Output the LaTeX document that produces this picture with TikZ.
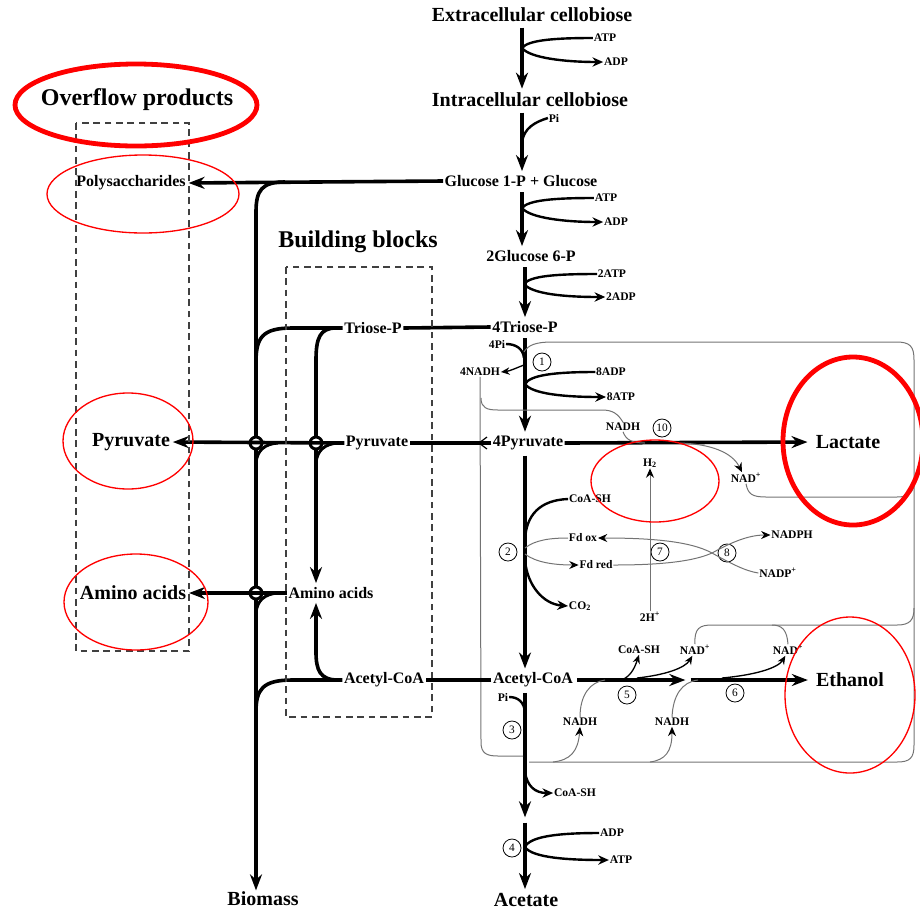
\documentclass[tikz,border=0pt]{standalone}
\usepackage{fontspec}
\setmainfont{Liberation Serif}
\usetikzlibrary{arrows.meta}
\begin{document}
\begin{tikzpicture}[x=0.75pt,y=-0.75pt,
  big/.style={font=\fontsize{15}{17}\selectfont\bfseries,inner sep=1pt},
  huge/.style={font=\fontsize{18}{20}\selectfont\bfseries,inner sep=1pt},
  mid/.style={font=\fontsize{12}{14}\selectfont\bfseries,inner sep=1pt},
  sm/.style={font=\fontsize{8.7}{10}\selectfont\bfseries,inner sep=0.5pt},
  flux/.style={line width=2.7pt},
  fluxarr/.style={flux,-{Stealth[length=12pt,width=9pt]}},
  chain/.style={fluxarr,shorten <=3pt,shorten >=2pt},
  side/.style={line width=1.8pt},
  sidearr/.style={side,-{Stealth[length=8pt,width=7pt]}},
  smallarr/.style={line width=1pt,-{Stealth[length=6.5pt,width=5.5pt]}},
  cof/.style={draw=black!55,line width=0.75pt},
  cofarr/.style={cof,-{Stealth[length=7pt,width=6pt,color=black]}},
  num/.style={circle,draw,line width=0.6pt,inner sep=0pt,minimum size=13.5pt,font=\fontsize{8.5}{9}\selectfont},
  redthick/.style={draw=red,line width=3.6pt},
  redthin/.style={draw=red,line width=1pt},
  dbox/.style={draw=black!75,line width=1pt,dash pattern=on 5pt off 3.5pt},
  hop/.pic={\draw[line width=2.2pt] (0,0) circle[radius=6];
            \draw[line width=2.2pt] (22,0) .. controls (8,1) and (1,8) .. (0,20);}
]
\useasboundingbox (0,0) rectangle (920,911);

% ---------- main column nodes ----------
\node[big] (ext) at (532,15) {Extracellular cellobiose};
\node[big] (int) at (530,100) {Intracellular cellobiose};
\node[mid] (g1p) at (521,181) {Glucose 1-P + Glucose};
\node[mid] (g6p) at (531,256) {2Glucose 6-P};
\node[mid] (tri) at (525,327) {4Triose-P};
\node[mid] (pyr) at (528,443) {4Pyruvate};
\node[mid] (acc) at (533,680) {Acetyl-CoA};
\node[big] (ace) at (526,900) {Acetate};
\node[big] (lac) at (848,442) {Lactate};
\node[big] (eth) at (850,680) {Ethanol};

% ---------- left nodes ----------
\node[huge] (ovf) at (137,100) {Overflow products};
\node[huge] (bbl) at (358,242) {Building blocks};
\node[mid] (poly) at (131,183) {Polysaccharides};
\node[big] (pyro) at (131,442) {Pyruvate};
\node[big] (aao) at (133,593) {Amino acids};
\node[big] (bio) at (263,899) {Biomass};
\node[mid] (trib) at (373,328) {Triose-P};
\node[mid] (pyrb) at (377,443) {Pyruvate};
\node[mid] (aab) at (331,593) {Amino acids};
\node[mid] (accb) at (384,680) {Acetyl-CoA};

% ---------- small labels ----------
\node[sm] (atp1) at (605,38) {ATP};
\node[sm] (adp1) at (616,62) {ADP};
\node[sm] (pi1) at (554,118) {Pi};
\node[sm] (atp2) at (606,198) {ATP};
\node[sm] (adp2) at (616,222) {ADP};
\node[sm] (atp3) at (612,274) {2ATP};
\node[sm] (adp3) at (621,297) {2ADP};
\node[sm] (pi4) at (497,344) {4Pi};
\node[sm] (nadh4) at (480,372) {4NADH};
\node[sm] (adp8) at (611,372) {8ADP};
\node[sm] (atp8) at (621,397) {8ATP};
\node[sm] (nadhL) at (623,427) {NADH};
\node[sm] (nadL) at (746,478) {NAD\textsuperscript{+}};
\node[sm] (h2) at (650,463) {H\textsubscript{2}};
\node[sm] (coa2) at (590,499) {CoA-SH};
\node[sm] (fdox) at (583,538) {Fd ox};
\node[sm] (fdred) at (596,565) {Fd red};
\node[sm] (nadph) at (792,535) {NADPH};
\node[sm] (nadp) at (778,573) {NADP\textsuperscript{+}};
\node[sm] (co2) at (580,606) {CO\textsubscript{2}};
\node[sm] (hp) at (650,617) {2H\textsuperscript{+}};
\node[sm] (coa5) at (639,650) {CoA-SH};
\node[sm] (nad5) at (695,650) {NAD\textsuperscript{+}};
\node[sm] (nad6) at (788,650) {NAD\textsuperscript{+}};
\node[sm] (nadh5) at (580,722) {NADH};
\node[sm] (nadh6) at (672,722) {NADH};
\node[sm] (pi3) at (503,697) {Pi};
\node[sm] (coa3) at (575,793) {CoA-SH};
\node[sm] (adp4) at (612,833) {ADP};
\node[sm] (atp4) at (621,860) {ATP};

% ---------- step numbers ----------
\node[num] (n1) at (542,362) {1};
\node[num] (n2) at (508,552) {2};
\node[num] (n3) at (512,730) {3};
\node[num] (n4) at (512,848) {4};
\node[num] (n5) at (627,695) {5};
\node[num] (n6) at (735,693) {6};
\node[num] (n7) at (660,552) {7};
\node[num] (n8) at (727,553) {8};
\node[num] (n10) at (662,428) {10};

% ---------- coordinates ----------
\coordinate (cx) at (522,0);
\coordinate (cy) at (525,0);
\coordinate (acp) at (525,820);
\coordinate (ald) at (688,680);
\coordinate (b1) at (522,48);
\coordinate (b2) at (522,208);
\coordinate (b3) at (524,284);
\coordinate (b4) at (525,384);
\coordinate (b5) at (524,365);
\coordinate (b8) at (525,847);
\coordinate (x78) at (712,553);

% ---------- main chain ----------
\draw[chain] (ext.south -| cx) -- (int.north -| cx);
\draw[chain] (int.south -| cx) -- (g1p.north -| cx);
\draw[chain] (g1p.south -| cx) -- (g6p.north -| cx);
\draw[chain] (g6p.south -| cy) -- (tri.north -| cy);
\draw[chain] (tri.south -| cy) -- (pyr.north -| cy);
\draw[chain] (pyr.south -| cy) -- (acc.north -| cy);
\draw[fluxarr,shorten <=3pt] (acc.south -| cy) -- ([yshift=2pt]acp);
\draw[fluxarr,shorten >=2pt] ([yshift=-2pt]acp) -- (ace.north -| cy);
\draw[fluxarr,shorten >=5pt] (pyr.east) -- (lac.west);
\draw[fluxarr,shorten <=2pt] (acc.east) -- ([xshift=-2pt]ald);
\draw[fluxarr,shorten >=5pt] ([xshift=2pt]ald) -- (eth.west);

% ---------- cofactor branches (black) ----------
\draw[side] (atp1.west) .. controls (555,38) and (528,40) .. (b1);
\draw[sidearr] (b1) .. controls (530,58) and (565,62) .. (adp1.west);
\draw[side] (pi1.west) .. controls (535,122) and (524,128) .. (522,142);
\draw[side] (atp2.west) .. controls (555,198) and (528,200) .. (b2);
\draw[sidearr] (b2) .. controls (530,218) and (565,222) .. (adp2.west);
\draw[side] (atp3.west) .. controls (555,274) and (530,276) .. (b3);
\draw[sidearr] (b3) .. controls (532,294) and (565,297) .. (adp3.west);
\draw[side] (pi4.east) .. controls (515,344) and (523,348) .. (524,358);
\draw[smallarr] (b5) .. controls (516,368) and (510,371) .. (nadh4.east);
\draw[side] (adp8.west) .. controls (555,372) and (530,375) .. (b4);
\draw[sidearr] (b4) .. controls (532,394) and (565,397) .. (atp8.west);
\draw[side] (coa2.west) .. controls (540,500) and (526,515) .. (525,540);
\draw[sidearr] (525,560) .. controls (527,585) and (543,604) .. (co2.west);
\draw[side] (pi3.east) .. controls (518,697) and (524,702) .. (525,712);
\draw[sidearr] (525,772) .. controls (527,786) and (535,793) .. (coa3.west);
\draw[side] (adp4.west) .. controls (560,833) and (530,836) .. (b8);
\draw[sidearr] (b8) .. controls (532,858) and (570,860) .. (atp4.west);
\draw[smallarr] (622,680) .. controls (630,676) and (634,670) .. (coa5.south);
\draw[smallarr] (637,678) .. controls (665,675) and (685,668) .. ([xshift=-2pt]nad5.south);
\draw[smallarr] (722,678) .. controls (755,675) and (778,668) .. ([xshift=-2pt]nad6.south);
\draw[line width=0.9pt] (487,437) -- (479,443) -- (487,449);

% ---------- gray cofactor lines ----------
\draw[cof] (524,352) .. controls (528,345) and (536,342) .. (552,342) -- (896,342)
  .. controls (910,342) and (914,346) .. (914,360) -- (914,745)
  .. controls (914,758) and (910,762) .. (897,762) -- (529,762);
\draw[cof] (nadh4.south) -- (481,742) .. controls (481,753) and (486,756) .. (498,756) -- (523,756);
\draw[cof] (481,398) .. controls (481,408) and (487,410) .. (498,410) -- (602,410)
  .. controls (613,410) and (618,414) .. (nadhL.north);
\draw[cof] (nadhL.south) .. controls (626,440) and (632,443) .. (645,443);
\draw[cofarr] (680,443) .. controls (710,444) and (732,452) .. ([xshift=-3pt]nadL.north);
\draw[cof] (nadL.south) .. controls (748,494) and (752,497) .. (766,497) -- (897,497)
  .. controls (909,497) and (914,492) .. (914,482);
\draw[cof] (nad5.north) .. controls (694,628) and (700,625) .. (712,625) -- (897,625)
  .. controls (910,625) and (914,620) .. (914,608);
\draw[cof] (772,625) .. controls (782,625) and (787,630) .. (nad6.north);
\draw[cofarr] (553,762) .. controls (570,760) and (578,752) .. (nadh5.south);
\draw[cof] (nadh5.north) .. controls (580,695) and (590,682) .. (605,680);
\draw[cofarr] (650,762) .. controls (665,760) and (672,752) .. (nadh6.south);
\draw[cof] (nadh6.north) .. controls (673,695) and (682,682) .. (698,680);
\draw[cof] (525,548) .. controls (535,540) and (550,538) .. (fdox.west);
\draw[cofarr] (525,554) .. controls (535,562) and (553,565) .. (fdred.west);
\draw[cofarr] (x78) .. controls (690,541) and (650,538) .. (fdox.east);
\draw[cof] (fdred.east) .. controls (650,565) and (690,563) .. (x78);
\draw[cofarr] (x78) .. controls (730,543) and (748,535) .. (nadph.west);
\draw[cof] (x78) .. controls (730,563) and (745,571) .. (nadp.west);
\draw[cofarr] (hp.north) -- (h2.south);

% ---------- left network ----------
\draw[fluxarr,shorten >=1pt] (g1p.west) -- (poly.east);
\draw[flux] (285,182) .. controls (262,182) and (256,190) .. (256,212) -- (256,437);
\draw[flux] (256,449) -- (256,587);
\draw[fluxarr] (256,599) -- (bio.north -| 256,0);
\draw[flux] (tri.west) -- (trib.east);
\draw[flux] (trib.west) -- (292,328) .. controls (262,328) and (256,338) .. (256,362);
\draw[flux] (336,328) .. controls (320,328) and (316,338) .. (316,360) -- (316,437);
\draw[fluxarr,shorten >=2pt] (316,449) -- (aab.north -| 316,0);
\draw[flux] (pyr.west) -- (pyrb.east);
\draw[fluxarr,shorten >=1pt] (pyrb.west) -- (pyro.east);
\draw[fluxarr,shorten >=1pt] (aab.west) -- (aao.east);
\draw[flux] (acc.west) -- (accb.east);
\draw[flux] (accb.west) -- (292,680) .. controls (262,680) and (256,690) .. (256,712);
\draw[fluxarr,shorten >=2pt] (338,680) .. controls (320,680) and (316,670) .. (316,652) -- (aab.south -| 316,0);
\pic at (256,443) {hop};
\pic at (316,443) {hop};
\pic at (256,593) {hop};

% ---------- dashed boxes ----------
\draw[dbox] (76,123) rectangle (189,651);
\draw[dbox] (286,267) rectangle (432,717);

% ---------- red highlight ellipses ----------
\draw[redthick] (136,105) ellipse [x radius=121, y radius=41];
\draw[redthin] (143,194) ellipse [x radius=96, y radius=39];
\draw[redthin] (128,441) ellipse [x radius=65, y radius=48];
\draw[redthin] (136,602) ellipse [x radius=72, y radius=48];
\draw[redthin] (655,481) ellipse [x radius=64, y radius=41];
\draw[redthick] (853,441) ellipse [x radius=70, y radius=84];
\draw[redthin] (850,695) ellipse [x radius=65, y radius=78];
\end{tikzpicture}
\end{document}
